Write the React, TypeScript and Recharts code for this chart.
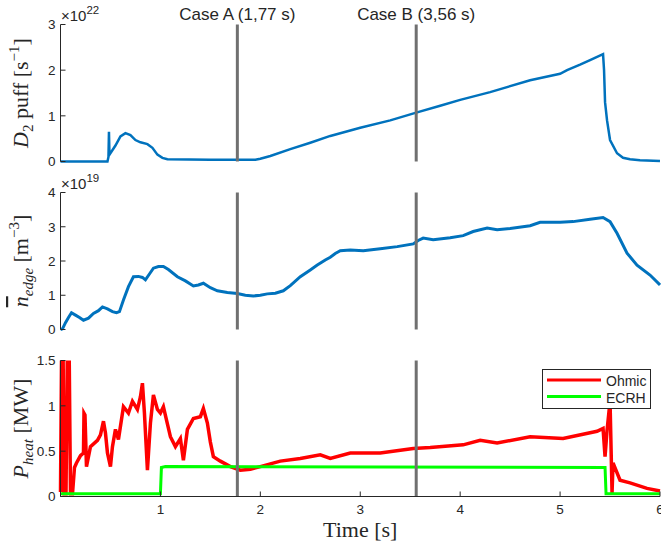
import React from 'react';
import { LineChart, Line, XAxis, YAxis, ReferenceLine, Legend } from 'recharts';

const AXIS = '#262626';
const SANS = '"Liberation Sans", Arial, sans-serif';
const SERIF = '"Liberation Serif", "Times New Roman", serif';
const BLUE = '#0072BD';
const RED = '#FF0000';
const GREEN = '#00FF00';
const CASE_COLOR = '#707070';

// time ticks [s]
const timeTicks = [0, 1, 2, 3, 4, 5, 6];
const d2Ticks = [0, 1, 2, 3];
const neTicks = [0, 1, 2, 3, 4];
const pTicks = [0, 0.5, 1, 1.5];

// case times
const caseTimes = [1.77, 3.56];
const caseLabels = ['Case A (1,77 s)', 'Case B (3,56 s)'];

// D2 puff (x1e22 s^-1)
const d2Time = [0, 0.47, 0.48, 0.485, 0.49, 0.55, 0.6, 0.65, 0.7, 0.75, 0.8, 0.87, 0.92, 0.97, 1.02, 1.07, 1.5, 1.95, 2.0, 2.1, 2.3, 2.5, 2.7, 3.0, 3.3, 3.56, 3.8, 4.0, 4.3, 4.7, 5.0, 5.07, 5.2, 5.3, 5.43, 5.44, 5.45, 5.47, 5.5, 5.57, 5.63, 5.7, 5.8, 6.0];
const d2Value = [0, 0, 0.1, 0.65, 0.15, 0.35, 0.55, 0.62, 0.58, 0.47, 0.42, 0.38, 0.3, 0.15, 0.08, 0.05, 0.04, 0.04, 0.06, 0.12, 0.27, 0.41, 0.56, 0.74, 0.9, 1.07, 1.22, 1.35, 1.52, 1.78, 1.92, 2.0, 2.12, 2.22, 2.35, 2.0, 1.3, 0.9, 0.47, 0.18, 0.08, 0.05, 0.03, 0.01];

// edge density (x1e19 m^-3)
const neTime = [0, 0.02, 0.05, 0.08, 0.11, 0.15, 0.19, 0.23, 0.28, 0.33, 0.38, 0.42, 0.47, 0.52, 0.56, 0.59, 0.63, 0.68, 0.73, 0.78, 0.82, 0.85, 0.89, 0.93, 0.98, 1.03, 1.08, 1.17, 1.25, 1.33, 1.38, 1.43, 1.5, 1.57, 1.67, 1.77, 1.85, 1.93, 2.0, 2.07, 2.15, 2.23, 2.3, 2.4, 2.5, 2.57, 2.65, 2.7, 2.75, 2.8, 2.9, 3.03, 3.2, 3.37, 3.53, 3.58, 3.63, 3.73, 3.9, 4.03, 4.13, 4.27, 4.37, 4.5, 4.7, 4.8, 5.0, 5.13, 5.3, 5.43, 5.5, 5.57, 5.67, 5.77, 5.9, 6.0];
const neValue = [0, 0.02, 0.2, 0.35, 0.49, 0.42, 0.35, 0.27, 0.33, 0.47, 0.55, 0.66, 0.6, 0.52, 0.49, 0.52, 0.86, 1.25, 1.54, 1.55, 1.52, 1.45, 1.62, 1.79, 1.84, 1.84, 1.75, 1.54, 1.42, 1.27, 1.3, 1.35, 1.22, 1.13, 1.08, 1.05, 1.0, 0.98, 1.0, 1.04, 1.06, 1.13, 1.28, 1.54, 1.74, 1.88, 2.03, 2.11, 2.22, 2.3, 2.32, 2.3, 2.36, 2.42, 2.5, 2.6, 2.67, 2.62, 2.68, 2.74, 2.86, 2.96, 2.91, 2.95, 3.03, 3.13, 3.13, 3.15, 3.22, 3.27, 3.15, 2.81, 2.23, 1.88, 1.59, 1.3];

// Ohmic heating power (MW)
const ohmTime = [0, 0.012, 0.025, 0.035, 0.055, 0.07, 0.085, 0.1, 0.12, 0.14, 0.16, 0.2, 0.23, 0.235, 0.245, 0.26, 0.3, 0.37, 0.4, 0.43, 0.45, 0.47, 0.5, 0.52, 0.55, 0.58, 0.63, 0.68, 0.72, 0.77, 0.8, 0.82, 0.84, 0.87, 0.9, 0.93, 0.97, 1.0, 1.03, 1.07, 1.1, 1.15, 1.2, 1.23, 1.27, 1.33, 1.4, 1.43, 1.47, 1.5, 1.53, 1.6, 1.7, 1.8, 1.9, 2.0, 2.2, 2.4, 2.6, 2.7, 2.9, 3.2, 3.53, 3.7, 4.03, 4.2, 4.37, 4.7, 5.03, 5.37, 5.43, 5.45, 5.47, 5.5, 5.52, 5.53, 5.6, 5.7, 5.87, 6.0];
const ohmValue = [0.05, 1.8, 1.8, 0.03, 0.03, 1.8, 1.8, 0.03, 0.03, 0.32, 0.37, 0.45, 0.48, 0.92, 0.9, 0.33, 0.55, 0.62, 0.68, 0.83, 0.7, 0.48, 0.33, 0.55, 0.74, 0.63, 0.99, 0.92, 1.05, 0.96, 1.1, 1.25, 0.92, 0.29, 0.81, 1.12, 0.96, 0.92, 0.99, 0.8, 0.66, 0.55, 0.64, 0.4, 0.74, 0.86, 0.88, 0.97, 0.81, 0.6, 0.44, 0.39, 0.33, 0.29, 0.3, 0.33, 0.39, 0.42, 0.46, 0.42, 0.48, 0.48, 0.53, 0.54, 0.57, 0.62, 0.59, 0.66, 0.64, 0.72, 0.75, 0.44, 0.73, 1.05, 0.04, 0.37, 0.18, 0.15, 0.09, 0.06];

// ECRH heating power (MW)
const ecrhTime = [0, 1.0, 1.01, 1.05, 5.45, 5.46, 6.0];
const ecrhValue = [0.03, 0.03, 0.32, 0.33, 0.32, 0.03, 0.03];

const toRows = (ts: number[], vs: number[]) => ts.map((t, i) => ({ t, v: vs[i] }));
const d2Data = toRows(d2Time, d2Value);
const neData = toRows(neTime, neValue);
const ohmData = toRows(ohmTime, ohmValue);
const ecrhData = toRows(ecrhTime, ecrhValue);

const TL = 5;

const makeBottomTick = (showLabel: boolean) => (props: any) => {
  const { x, y, payload } = props;
  return (
    <g>
      <line x1={x} x2={x} y1={y} y2={y - TL} stroke={AXIS} strokeWidth={1} />
      {showLabel && payload.value !== 0 ? (
        <text x={x} y={y + 17} textAnchor="middle" fontFamily={SANS} fontSize={13.5} fill={AXIS}>
          {payload.value}
        </text>
      ) : null}
    </g>
  );
};

const topTick = (props: any) => {
  const { x, y } = props;
  return <line x1={x} x2={x} y1={y} y2={y + TL} stroke={AXIS} strokeWidth={1} />;
};

const leftTick = (props: any) => {
  const { x, y, payload } = props;
  return (
    <g>
      <line x1={x} x2={x + TL} y1={y} y2={y} stroke={AXIS} strokeWidth={1} />
      <text x={x - 5} y={y} dy="0.36em" textAnchor="end" fontFamily={SANS} fontSize={13.5} fill={AXIS}>
        {payload.value}
      </text>
    </g>
  );
};

const rightTick = (props: any) => {
  const { x, y } = props;
  return <line x1={x} x2={x - TL} y1={y} y2={y} stroke={AXIS} strokeWidth={1} />;
};

const makeYLabel = (kind: string, exponent: string | null) => (props: any) => {
  const vb = props.viewBox || {};
  const top = vb.y ?? 0;
  const h = vb.height ?? 0;
  const cy = top + h / 2;
  const bx = 28;
  let body: React.ReactNode = null;
  if (kind === 'd2') {
    body = (
      <>
        <tspan fontStyle="italic">D</tspan>
        <tspan fontSize={15} dy={5}>2</tspan>
        <tspan dy={-5}> puff [s</tspan>
        <tspan fontSize={15} dy={-9}>−1</tspan>
        <tspan dy={9}>]</tspan>
      </>
    );
  } else if (kind === 'ne') {
    body = (
      <>
        <tspan fontStyle="italic" textDecoration="overline" style={{ textDecoration: 'overline' }}>n</tspan>
        <tspan fontSize={15} fontStyle="italic" dy={5}>edge</tspan>
        <tspan dy={-5}> [m</tspan>
        <tspan fontSize={15} dy={-9}>−3</tspan>
        <tspan dy={9}>]</tspan>
      </>
    );
  } else {
    body = (
      <>
        <tspan fontStyle="italic">P</tspan>
        <tspan fontSize={15} fontStyle="italic" dy={5}>heat</tspan>
        <tspan dy={-5}> [MW]</tspan>
      </>
    );
  }
  return (
    <g>
      <text
        x={bx}
        y={cy}
        textAnchor="middle"
        transform={`rotate(-90, ${bx}, ${cy})`}
        fontFamily={SERIF}
        fontSize={22}
        fill={AXIS}
      >
        {body}
      </text>
      {exponent ? (
        <text x={61} y={top - 3.5} fontFamily={SANS} fontSize={15} fill={AXIS}>
          ×10
          <tspan fontSize={11.5} dy={-7}>{exponent}</tspan>
        </text>
      ) : null}
    </g>
  );
};

const renderLegend = () => (
  <div
    style={{
      width: 109,
      height: 40,
      border: `1px solid ${AXIS}`,
      boxSizing: 'border-box',
      background: '#fff',
    }}
  >
    <svg width={107} height={38} style={{ display: 'block' }}>
      <line x1={4} x2={58} y1={10} y2={10} stroke={RED} strokeWidth={3} />
      <text x={63} y={16} fontFamily={SANS} fontSize={14} fill={AXIS}>Ohmic</text>
      <line x1={4} x2={58} y1={26.5} y2={26.5} stroke={GREEN} strokeWidth={3} />
      <text x={63} y={32.5} fontFamily={SANS} fontSize={14} fill={AXIS}>ECRH</text>
    </svg>
  </div>
);

type PanelProps = {
  top: number;
  height: number;
  margin: { top: number; right: number; bottom: number; left: number };
  yDomain: [number, number];
  yTicks: number[];
  bottomLabels: boolean;
  bottomHeight: number;
  yLabel: any;
  caseText: boolean;
  overflow?: boolean;
  children: React.ReactNode;
  extra?: React.ReactNode;
};

const Panel = (p: PanelProps) => (
  <div style={{ position: 'absolute', left: 0, top: p.top }}>
    <LineChart width={661} height={p.height} margin={p.margin}>
      <XAxis
        xAxisId={0}
        type="number"
        dataKey="t"
        domain={[0, 6]}
        ticks={timeTicks}
        interval={0}
        height={p.bottomHeight}
        tickSize={0}
        tickMargin={0}
        tickLine={false}
        axisLine={{ stroke: AXIS, strokeWidth: 1 }}
        tick={makeBottomTick(p.bottomLabels)}
        label={
          p.bottomLabels
            ? { value: 'Time [s]', position: 'insideBottom', offset: 0, fontFamily: SERIF, fontSize: 22, fill: AXIS }
            : undefined
        }
      />
      <XAxis
        xAxisId="top"
        orientation="top"
        type="number"
        dataKey="t"
        domain={[0, 6]}
        ticks={timeTicks}
        interval={0}
        height={0}
        tickSize={0}
        tickMargin={0}
        tickLine={false}
        axisLine={{ stroke: AXIS, strokeWidth: 1 }}
        tick={topTick}
      />
      <YAxis
        yAxisId={0}
        type="number"
        domain={p.yDomain}
        ticks={p.yTicks}
        interval={0}
        width={60}
        allowDataOverflow={!!p.overflow}
        tickSize={0}
        tickMargin={0}
        tickLine={false}
        axisLine={{ stroke: AXIS, strokeWidth: 1 }}
        tick={leftTick}
        label={{ content: p.yLabel }}
      />
      <YAxis
        yAxisId="right"
        orientation="right"
        type="number"
        domain={p.yDomain}
        ticks={p.yTicks}
        interval={0}
        width={0}
        tickSize={0}
        tickMargin={0}
        tickLine={false}
        axisLine={{ stroke: AXIS, strokeWidth: 1 }}
        tick={rightTick}
      />
      {p.children}
      {caseTimes.map((ct, i) => (
        <ReferenceLine
          key={ct}
          x={ct}
          xAxisId={0}
          yAxisId={0}
          stroke={CASE_COLOR}
          strokeWidth={3}
          label={
            p.caseText
              ? { value: caseLabels[i], position: 'top', offset: 5, fontFamily: SANS, fontSize: 17, fill: AXIS }
              : undefined
          }
        />
      ))}
      {p.extra}
    </LineChart>
  </div>
);

export default function App() {
  return (
    <div style={{ position: 'absolute', left: 0, top: 0, width: 661, height: 545, background: '#fff' }}>
      <Panel
        top={0}
        height={170}
        margin={{ top: 24.5, right: 1, bottom: 8.5, left: 0.5 }}
        yDomain={[0, 3]}
        yTicks={d2Ticks}
        bottomLabels={false}
        bottomHeight={0}
        yLabel={makeYLabel('d2', '22')}
        caseText={true}
      >
        <Line
          data={d2Data}
          dataKey="v"
          xAxisId={0}
          yAxisId={0}
          type="linear"
          stroke={BLUE}
          strokeWidth={2.5}
          dot={false}
          activeDot={false}
          isAnimationActive={false}
        />
      </Panel>
      <Panel
        top={170}
        height={170}
        margin={{ top: 22.5, right: 1, bottom: 10.5, left: 0.5 }}
        yDomain={[0, 4]}
        yTicks={neTicks}
        bottomLabels={false}
        bottomHeight={0}
        yLabel={makeYLabel('ne', '19')}
        caseText={false}
      >
        <Line
          data={neData}
          dataKey="v"
          xAxisId={0}
          yAxisId={0}
          type="linear"
          stroke={BLUE}
          strokeWidth={3}
          dot={false}
          activeDot={false}
          isAnimationActive={false}
        />
      </Panel>
      <Panel
        top={340}
        height={205}
        margin={{ top: 20.5, right: 1, bottom: 8.5, left: 0.5 }}
        yDomain={[0, 1.5]}
        yTicks={pTicks}
        bottomLabels={true}
        bottomHeight={40}
        yLabel={makeYLabel('p', null)}
        caseText={false}
        overflow={true}
        extra={
          <Legend
            layout="horizontal"
            verticalAlign="middle"
            align="center"
            content={renderLegend}
            wrapperStyle={{ left: 542, top: 29, width: 'auto', height: 'auto' }}
          />
        }
      >
        <Line
          name="Ohmic"
          data={ohmData}
          dataKey="v"
          xAxisId={0}
          yAxisId={0}
          type="linear"
          stroke={RED}
          strokeWidth={3.5}
          dot={false}
          activeDot={false}
          isAnimationActive={false}
        />
        <Line
          name="ECRH"
          data={ecrhData}
          dataKey="v"
          xAxisId={0}
          yAxisId={0}
          type="linear"
          stroke={GREEN}
          strokeWidth={3}
          dot={false}
          activeDot={false}
          isAnimationActive={false}
        />
      </Panel>
    </div>
  );
}
